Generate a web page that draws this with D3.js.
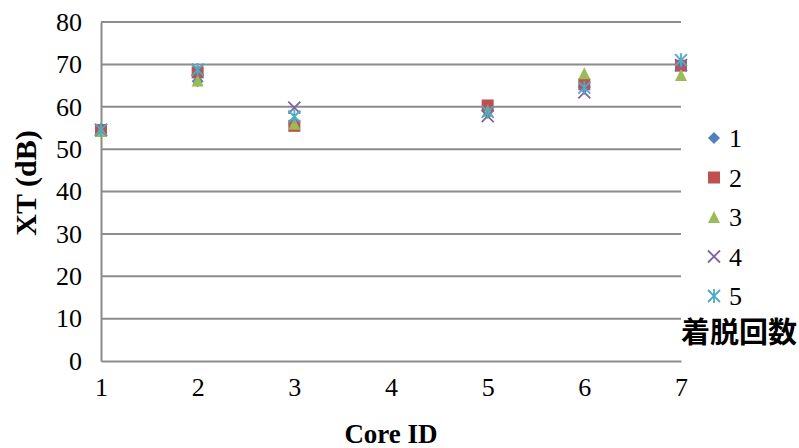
<!DOCTYPE html>
<html>
<head>
<meta charset="utf-8">
<script src="https://cdn.jsdelivr.net/npm/d3@7"></script>
<style>
  html, body { margin: 0; padding: 0; background: #fff; }
  svg { display: block; }
</style>
</head>
<body>
<svg id="chart" width="799" height="448"></svg>
<script>
// Core IDs along the x axis and crosstalk (dB) per attach/detach cycle
const coreTicks = [1, 2, 3, 4, 5, 6, 7];
const coreIds = [1, 2, 3, 5, 6, 7];
const yTicks = [0, 10, 20, 30, 40, 50, 60, 70, 80];
const seriesNames = ["1", "2", "3", "4", "5"];
const xt1 = [54.5, 66.0, 56.0, 59.0, 66.0, 69.5];
const xt2 = [54.5, 68.1, 55.5, 60.3, 65.3, 69.7];
const xt3 = [54.3, 66.2, 56.0, 59.0, 67.9, 67.5];
const xt4 = [54.5, 68.7, 59.8, 57.8, 63.4, 69.8];
const xt5 = [54.6, 68.7, 57.7, 58.8, 64.5, 71.0];
const legendTitle = "着脱回数";

const seriesValues = [xt1, xt2, xt3, xt4, xt5];
const colors = ["#4F81BD", "#C0504D", "#9BBB59", "#8064A2", "#4BACC6"];
const shapes = ["diamond", "square", "triangle", "x", "star"];

const svg = d3.select("#chart");
svg.append("rect").attr("width", 799).attr("height", 448).attr("fill", "#fff");

const x = d3.scaleLinear().domain([1, 7]).range([101, 681]);
const y = d3.scaleLinear().domain([0, 80]).range([361, 22]);

const serif = "'Liberation Serif', 'Times New Roman', serif";
const gridColor = "#8C8C8C";

// horizontal gridlines
svg.append("g")
  .selectAll("line")
  .data(yTicks.filter(d => d > 0))
  .join("line")
  .attr("x1", x(1)).attr("x2", x(7))
  .attr("y1", d => y(d)).attr("y2", d => y(d))
  .attr("stroke", gridColor).attr("stroke-width", 2);

// y axis
const yAxis = svg.append("g")
  .attr("transform", `translate(${x(1)},0)`)
  .call(d3.axisLeft(y).tickValues(yTicks).tickSize(0).tickPadding(19));
yAxis.select(".domain").attr("stroke", gridColor).attr("stroke-width", 2);
yAxis.selectAll("text")
  .attr("font-family", serif).attr("font-size", 26).attr("fill", "#000");

// x axis
const xAxis = svg.append("g")
  .attr("transform", `translate(0,${y(0)})`)
  .call(d3.axisBottom(x).tickValues(coreTicks).tickFormat(d3.format("d")).tickSize(0).tickPadding(17));
xAxis.select(".domain").attr("stroke", gridColor).attr("stroke-width", 2);
xAxis.selectAll("text")
  .attr("font-family", serif).attr("font-size", 26).attr("fill", "#000");

// axis titles
svg.append("text")
  .attr("x", 391).attr("y", 443)
  .attr("text-anchor", "middle")
  .attr("font-family", serif).attr("font-weight", "bold").attr("font-size", 27)
  .text("Core ID");
svg.append("text")
  .attr("transform", "translate(36,183) rotate(-90)")
  .attr("text-anchor", "middle")
  .attr("font-family", serif).attr("font-weight", "bold").attr("font-size", 30)
  .text("XT (dB)");

// marker drawing
function drawMarker(g, shape, color, cx, cy) {
  const s = 6;
  if (shape === "diamond") {
    g.append("path")
      .attr("d", `M${cx},${cy - s}L${cx + s},${cy}L${cx},${cy + s}L${cx - s},${cy}Z`)
      .attr("fill", color);
  } else if (shape === "square") {
    g.append("rect")
      .attr("x", cx - s).attr("y", cy - s).attr("width", 2 * s).attr("height", 2 * s)
      .attr("fill", color);
  } else if (shape === "triangle") {
    g.append("path")
      .attr("d", `M${cx},${cy - s}L${cx + s},${cy + s}L${cx - s},${cy + s}Z`)
      .attr("fill", color);
  } else if (shape === "x") {
    g.append("path")
      .attr("d", `M${cx - s},${cy - s}L${cx + s},${cy + s}M${cx + s},${cy - s}L${cx - s},${cy + s}`)
      .attr("stroke", color).attr("stroke-width", 1.8).attr("fill", "none");
  } else if (shape === "star") {
    g.append("path")
      .attr("d", `M${cx - s},${cy - s}L${cx + s},${cy + s}M${cx + s},${cy - s}L${cx - s},${cy + s}M${cx},${cy - s - 1}L${cx},${cy + s + 1}`)
      .attr("stroke", color).attr("stroke-width", 1.8).attr("fill", "none");
  }
}

// data points
const marks = svg.append("g");
seriesValues.forEach((vals, i) => {
  const g = marks.append("g");
  vals.forEach((v, j) => drawMarker(g, shapes[i], colors[i], x(coreIds[j]), y(v)));
});

// legend
const legend = svg.append("g");
seriesNames.forEach((name, i) => {
  const ly = 138 + i * 39.5;
  drawMarker(legend, shapes[i], colors[i], 714, ly);
  legend.append("text")
    .attr("x", 729).attr("y", ly)
    .attr("dy", "0.35em")
    .attr("font-family", serif).attr("font-size", 26)
    .text(name);
});
legend.append("text")
  .attr("x", 681).attr("y", 343)
  .attr("font-family", "'Noto Sans CJK JP', 'Noto Sans CJK SC', sans-serif")
  .attr("font-weight", "bold").attr("font-size", 29)
  .text(legendTitle);
</script>
</body>
</html>
